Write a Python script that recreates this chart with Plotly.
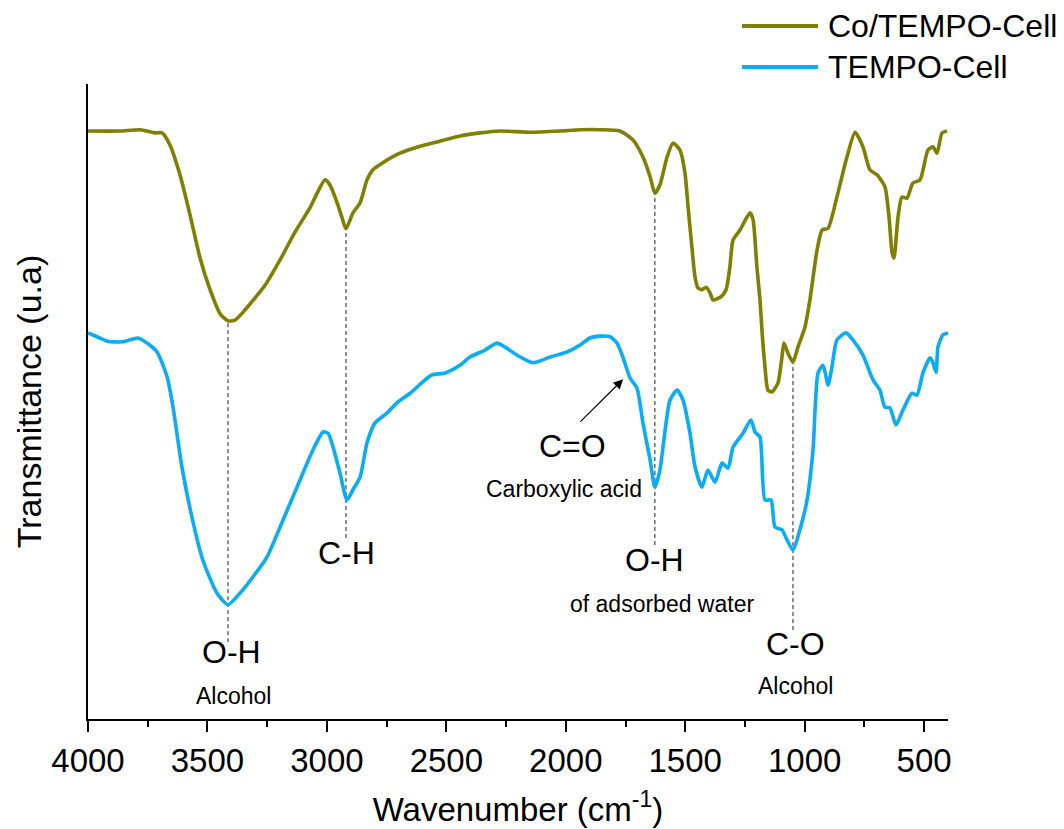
import plotly.graph_objects as go

# ---- data ----
wn_co = [4000, 3866, 3782, 3720, 3690, 3657, 3615, 3573, 3531, 3489, 3447, 3414, 3385, 3343,
         3301, 3259, 3196, 3133, 3071, 3008, 2987, 2958, 2937, 2920, 2891, 2861, 2832, 2807,
         2766, 2694, 2610, 2527, 2443, 2359, 2275, 2150, 2024, 1940, 1857, 1773, 1719, 1677,
         1647, 1627, 1606, 1576, 1551, 1522, 1501, 1488, 1472, 1459, 1447, 1430, 1413, 1396,
         1384, 1350, 1329, 1313, 1300, 1271, 1229, 1216, 1200, 1187, 1178, 1166, 1154, 1137,
         1112, 1095, 1087, 1070, 1049, 1028, 999, 978, 948, 927, 902, 865, 823, 789, 756, 727,
         697, 664, 647, 634, 626, 609, 593, 572, 547, 517, 484, 463, 446, 425, 404]
t_co = [92.6, 92.6, 92.8, 92.3, 92.3, 90.4, 85.7, 79.4, 72.6, 67.6, 63.8, 62.7, 62.8, 64.4,
        66.3, 68.3, 72.3, 76.7, 80.5, 84.9, 84.1, 81.4, 79.0, 77.2, 79.7, 81.3, 84.9, 86.5,
        87.6, 89.1, 90.2, 91.0, 91.8, 92.3, 92.6, 92.4, 92.6, 92.8, 92.8, 92.6, 91.2, 88.5,
        85.4, 82.8, 84.1, 88.5, 90.7, 89.6, 86.0, 80.6, 74.3, 69.6, 67.9, 67.6, 68.0, 67.1,
        66.0, 66.5, 67.6, 71.2, 75.4, 77.0, 79.7, 78.6, 71.2, 66.0, 60.8, 55.4, 51.8, 51.5,
        52.9, 57.0, 59.2, 57.6, 56.2, 58.6, 61.7, 66.0, 73.9, 77.0, 77.3, 82.2, 88.5, 92.4,
        90.1, 86.5, 85.7, 83.8, 79.1, 73.4, 72.6, 79.1, 82.2, 82.0, 84.4, 84.9, 89.6, 90.1,
        89.1, 92.3, 92.6]

wn_tempo = [4000, 3962, 3920, 3853, 3791, 3753, 3711, 3669, 3644, 3607, 3565, 3519, 3460, 3414,
            3364, 3309, 3251, 3184, 3113, 3058, 3016, 2995, 2974, 2945, 2916, 2891, 2861, 2832,
            2799, 2748, 2707, 2652, 2589, 2560, 2505, 2443, 2401, 2338, 2288, 2255, 2204, 2137,
            2066, 1995, 1940, 1899, 1857, 1815, 1786, 1761, 1731, 1702, 1677, 1647, 1627, 1606,
            1564, 1534, 1509, 1480, 1459, 1430, 1405, 1375, 1346, 1321, 1300, 1258, 1225, 1208,
            1187, 1166, 1141, 1124, 1095, 1074, 1049, 1020, 990, 965, 944, 923, 902, 886, 865,
            827, 798, 756, 714, 685, 664, 643, 618, 588, 551, 530, 505, 475, 463, 450, 442, 421,
            400]
t_tempo = [60.8, 60.2, 59.5, 59.4, 60.0, 59.2, 57.8, 53.9, 49.1, 39.7, 31.8, 25.0, 19.8, 18.0,
           19.8, 22.4, 25.5, 31.3, 37.6, 42.4, 45.2, 45.0, 42.8, 38.7, 34.5, 36.1, 38.1, 43.5,
           46.6, 48.2, 49.8, 51.3, 53.4, 54.2, 54.5, 55.7, 57.0, 58.1, 59.2, 58.6, 57.3, 56.1,
           57.0, 57.8, 58.9, 60.0, 60.3, 60.2, 59.2, 57.0, 53.7, 52.1, 46.6, 40.8, 36.5, 39.2,
           50.2, 51.8, 50.2, 45.0, 39.7, 36.5, 39.2, 37.3, 40.3, 39.5, 42.8, 45.0, 47.1, 45.2,
           44.4, 34.5, 34.5, 30.2, 29.8, 28.2, 26.6, 29.8, 34.5, 42.4, 54.5, 55.7, 52.6, 55.4,
           59.7, 60.8, 59.7, 57.3, 53.4, 51.8, 49.1, 49.0, 46.3, 48.7, 51.3, 51.0, 54.5, 56.9,
           56.1, 54.6, 58.6, 60.5, 60.8]

series_names = ["Co/TEMPO-Cell", "TEMPO-Cell"]
series_colors = ["#808000", "#0AABF7"]

x_ticks = [4000, 3500, 3000, 2500, 2000, 1500, 1000, 500]

# band markers: (wavenumber, top of dashed line, bottom of dashed line)
band_wn = [3414, 2920, 1627, 1049]
band_top = [62.7, 77.2, 82.8, 56.2]
band_bottom = [12.1, 28.5, 27.4, 14.0]

# labels
label_text = ["O-H", "Alcohol", "C-H", "C=O", "Carboxylic acid", "O-H", "of adsorbed water",
              "C-O", "Alcohol"]
label_wn = [3401, 3393, 2916, 1970, 2007, 1627, 1597, 1040, 1040]
label_y = [10.6, 3.6, 26.1, 43.0, 36.2, 25.0, 18.1, 11.8, 5.2]
label_size = [32, 23, 32, 32, 23, 32, 23, 32, 23]

FONT = "Liberation Sans, Arial, sans-serif"

fig = go.Figure()
for wn, t, name, col in [(wn_co, t_co, series_names[0], series_colors[0]),
                         (wn_tempo, t_tempo, series_names[1], series_colors[1])]:
    fig.add_trace(go.Scatter(x=wn, y=t, mode="lines", name=name, showlegend=False,
                             line=dict(color=col, width=3.6, shape="spline", smoothing=0.6)))

shapes = []
for w, top, bot in zip(band_wn, band_top, band_bottom):
    shapes.append(dict(type="line", xref="x", yref="y", x0=w, x1=w, y0=bot, y1=top,
                       line=dict(color="#222222", width=1, dash="4px,3px"), layer="below"))

annotations = []
for txt, w, yy, sz in zip(label_text, label_wn, label_y, label_size):
    annotations.append(dict(x=w, y=yy, xref="x", yref="y", text=txt, showarrow=False,
                            font=dict(size=sz, color="black", family=FONT),
                            xanchor="center", yanchor="middle"))

# arrow pointing to the C=O shoulder
annotations.append(dict(x=1760, y=53.5, ax=1945, ay=46.6, xref="x", yref="y", axref="x",
                        ayref="y", text="", showarrow=True, arrowhead=2, arrowsize=1.6,
                        arrowwidth=1.2, arrowcolor="black", font=dict(size=12)))

# legend (drawn in paper coordinates)
leg_y = [1.0913, 1.0268]
for name, col, ly in zip(series_names, series_colors, leg_y):
    shapes.append(dict(type="line", xref="paper", yref="paper", x0=0.7605, x1=0.8488,
                       y0=ly, y1=ly, line=dict(color=col, width=4)))
    annotations.append(dict(x=0.8581, y=ly, xref="paper", yref="paper", text=name,
                            showarrow=False, xanchor="left", yanchor="middle",
                            font=dict(size=32, color="black", family=FONT)))

fig.update_layout(
    width=1064, height=829,
    margin=dict(l=88, r=116, t=84, b=110),
    paper_bgcolor="white", plot_bgcolor="white",
    font=dict(family=FONT, color="black"),
    shapes=shapes, annotations=annotations,
    showlegend=False,
)
fig.update_xaxes(
    range=[4000, 400], tickvals=x_ticks, ticktext=[str(v) for v in x_ticks],
    showgrid=False, zeroline=False, showline=True, linecolor="black", linewidth=2,
    ticks="outside", ticklen=11, tickwidth=2, tickcolor="black",
    tickfont=dict(size=33, family=FONT, color="black"), automargin=False,
    minor=dict(ticks="outside", ticklen=6, tickwidth=2, tickcolor="black", dtick=250,
               tick0=0, showgrid=False),
    title=dict(text="Wavenumber (cm<sup>-1</sup>)", font=dict(size=33, family=FONT),
               standoff=20),
)
fig.update_yaxes(
    range=[0, 100], showgrid=False, zeroline=False, showline=True, linecolor="black",
    linewidth=2, ticks="", showticklabels=False, automargin=False,
    title=dict(text="Transmittance (u.a)", font=dict(size=34, family=FONT), standoff=34),
)

fig.write_html("out.html")
